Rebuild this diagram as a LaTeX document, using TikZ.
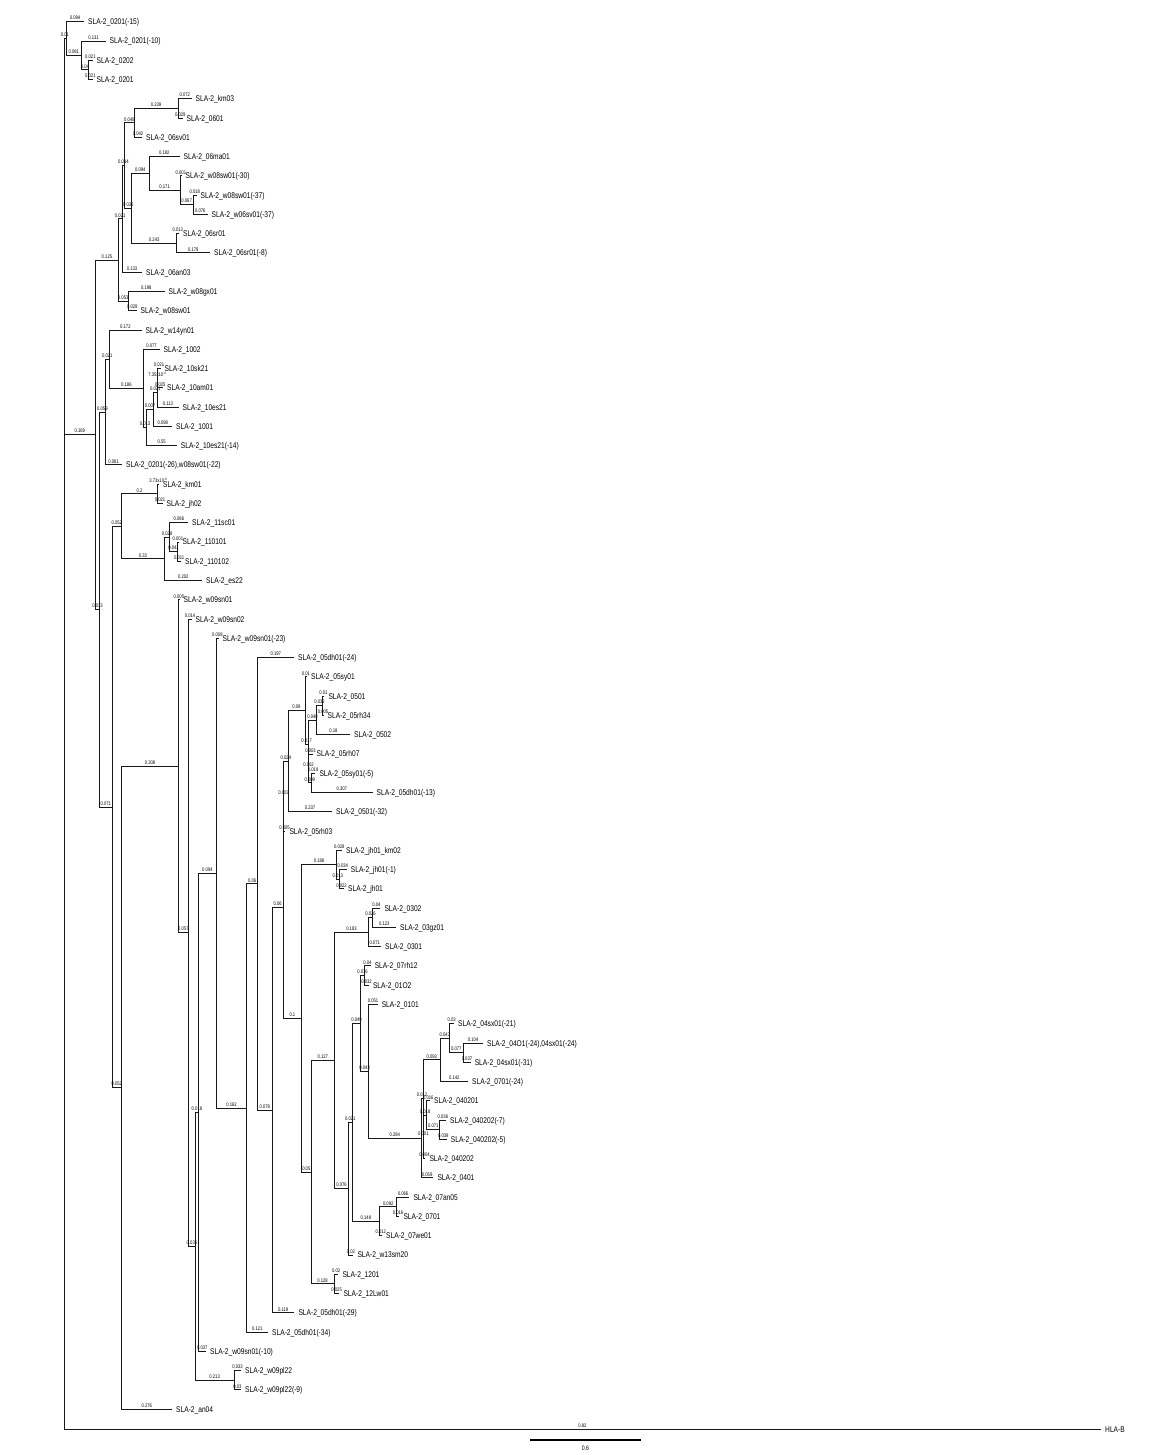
\documentclass[tikz,border=0pt]{standalone}
\usepackage{fontspec}
\setmainfont{Liberation Sans}[FakeStretch=0.8]
\newcommand\leaffont{\fontsize{8.3}{9}\selectfont}
\newcommand\labfont{\fontsize{5.2}{6}\selectfont}
\tikzset{
 lf/.style={anchor=west, inner xsep=4pt, inner ysep=0pt, text height=6pt, text depth=0pt, font=\leaffont},
 bl/.style={pos=0.75, above=1.3pt, inner sep=0pt, font=\labfont},
 brl/.style={line width=0.9pt, draw=black!90},
}
\newcommand\bedge[3]{\draw[brl] (#1) |- (#2) node[bl] {#3};}
\begin{document}
\begin{tikzpicture}[x=1pt,y=-1pt]
\fill[white] (0,0) rectangle (1149,1455);
\useasboundingbox (0,0) rectangle (1149,1455);
% internal nodes
\coordinate (rt) at (64,38.56);
\coordinate (nA) at (66,38.56);
\coordinate (nB) at (81.5,55.42);
\coordinate (nC) at (88.3,69.875);
\coordinate (al) at (95.5,434.78);
\coordinate (nQ) at (118.4,260.02);
\coordinate (nP) at (122,218.92);
\coordinate (nN) at (124.9,165.625);
\coordinate (nF) at (134,122.87);
\coordinate (nD) at (178,108.415);
\coordinate (nI) at (131.7,208.38);
\coordinate (nH) at (149,173.45);
\coordinate (nJ) at (180.3,190.31);
\coordinate (nK) at (193,204.765);
\coordinate (nL) at (176.7,243.305);
\coordinate (nR) at (128,301.115);
\coordinate (be) at (99.5,609.54);
\coordinate (nU) at (105.3,412.07);
\coordinate (nT) at (109.3,359.225);
\coordinate (nV) at (143.5,388.43);
\coordinate (nX) at (146.5,427.575);
\coordinate (nY) at (153.5,409.51);
\coordinate (nZ) at (157.2,392.65);
\coordinate (nW) at (157.6,378.195);
\coordinate (ga) at (112,807.005);
\coordinate (de) at (121.5,526.33);
\coordinate (kA) at (157.5,493.815);
\coordinate (dB) at (164.5,558.85);
\coordinate (dC) at (169.8,537.17);
\coordinate (dD) at (177.3,551.625);
\coordinate (ep) at (121.7,1087.68);
\coordinate (ze) at (178.3,766.225);
\coordinate (et) at (188.6,932.65);
\coordinate (th) at (195.3,1246.235);
\coordinate (ka) at (198.6,1112.235);
\coordinate (pl) at (234,1380.235);
\coordinate (nu) at (216.3,873.14);
\coordinate (xi) at (246.7,1107.94);
\coordinate (rh) at (257.6,883.825);
\coordinate (si) at (272,1110.04);
\coordinate (ta) at (283.2,907.285);
\coordinate (ps) at (283.8,796.11);
\coordinate (om) at (288,761.19);
\coordinate (oA) at (305,710.6);
\coordinate (oB) at (308.3,744.325);
\coordinate (oC) at (316.7,720.24);
\coordinate (oD) at (322.5,705.785);
\coordinate (oE) at (308.7,768.41);
\coordinate (oF) at (311,782.865);
\coordinate (ch) at (301.6,1018.46);
\coordinate (jA) at (336.6,864.76);
\coordinate (jB) at (339,879.215);
\coordinate (fA) at (311,1172.16);
\coordinate (fB) at (334.5,1060.44);
\coordinate (fC) at (334,1283.885);
\coordinate (sA) at (368.4,932.21);
\coordinate (sG) at (372.7,917.755);
\coordinate (sB) at (348.5,1188.665);
\coordinate (sC) at (352.2,1122.35);
\coordinate (xA) at (379.6,1221.26);
\coordinate (xB) at (396.8,1206.805);
\coordinate (sD) at (360.8,1023.44);
\coordinate (sF) at (364.4,975.565);
\coordinate (sE) at (368.5,1071.31);
\coordinate (qA) at (421,1138.155);
\coordinate (qB) at (423.2,1098.41);
\coordinate (qC) at (440.5,1059.87);
\coordinate (qD) at (449.3,1038.19);
\coordinate (qE) at (463.3,1052.645);
\coordinate (qF) at (423.6,1136.95);
\coordinate (qG) at (426.7,1115.27);
\coordinate (qH) at (439.8,1129.725);
% leaves
\node[lf] (l1) at (84,21.7) {SLA-2\_0201(-15)};
\node[lf] (l2) at (105.5,40.97) {SLA-2\_0201(-10)};
\node[lf] (l3) at (92.5,60.24) {SLA-2\_0202};
\node[lf] (l4) at (92.5,79.51) {SLA-2\_0201};
\node[lf] (l5) at (191.5,98.78) {SLA-2\_km03};
\node[lf] (l6) at (182.5,118.05) {SLA-2\_0601};
\node[lf] (l7) at (142,137.32) {SLA-2\_06sv01};
\node[lf] (l8) at (179.5,156.59) {SLA-2\_06ma01};
\node[lf] (l9) at (181.5,175.86) {SLA-2\_w08sw01(-30)};
\node[lf] (l10) at (196.5,195.13) {SLA-2\_w08sw01(-37)};
\node[lf] (l11) at (207.5,214.4) {SLA-2\_w06sv01(-37)};
\node[lf] (l12) at (179,233.67) {SLA-2\_06sr01};
\node[lf] (l13) at (210,252.94) {SLA-2\_06sr01(-8)};
\node[lf] (l14) at (142,272.21) {SLA-2\_06an03};
\node[lf] (l15) at (164.5,291.48) {SLA-2\_w08gx01};
\node[lf] (l16) at (136.5,310.75) {SLA-2\_w08sw01};
\node[lf] (l17) at (141.5,330.02) {SLA-2\_w14yn01};
\node[lf] (l18) at (159.5,349.29) {SLA-2\_1002};
\node[lf] (l19) at (160.5,368.56) {SLA-2\_10sk21};
\node[lf] (l20) at (163,387.83) {SLA-2\_10am01};
\node[lf] (l21) at (178.5,407.1) {SLA-2\_10es21};
\node[lf] (l22) at (172,426.37) {SLA-2\_1001};
\node[lf] (l23) at (176.7,445.64) {SLA-2\_10es21(-14)};
\node[lf] (l24) at (122,464.91) {SLA-2\_0201(-26),w08sw01(-22)};
\node[lf] (l25) at (159,484.18) {SLA-2\_km01};
\node[lf] (l26) at (162.5,503.45) {SLA-2\_jh02};
\node[lf] (l27) at (188,522.72) {SLA-2\_11sc01};
\node[lf] (l28) at (178.5,541.99) {SLA-2\_110101};
\node[lf] (l29) at (181,561.26) {SLA-2\_110102};
\node[lf] (l30) at (202,580.53) {SLA-2\_es22};
\node[lf] (l31) at (179.5,599.8) {SLA-2\_w09sn01};
\node[lf] (l32) at (191.5,619.07) {SLA-2\_w09sn02};
\node[lf] (l33) at (218.5,638.34) {SLA-2\_w09sn01(-23)};
\node[lf] (l34) at (294,657.61) {SLA-2\_05dh01(-24)};
\node[lf] (l35) at (307,676.88) {SLA-2\_05sy01};
\node[lf] (l36) at (324.3,696.15) {SLA-2\_0501};
\node[lf] (l37) at (323.5,715.42) {SLA-2\_05rh34};
\node[lf] (l38) at (350,734.69) {SLA-2\_0502};
\node[lf] (l39) at (312.5,753.96) {SLA-2\_05rh07};
\node[lf] (l40) at (315.3,773.23) {SLA-2\_05sy01(-5)};
\node[lf] (l41) at (372.5,792.5) {SLA-2\_05dh01(-13)};
\node[lf] (l42) at (332,811.77) {SLA-2\_0501(-32)};
\node[lf] (l43) at (285.3,831.04) {SLA-2\_05rh03};
\node[lf] (l44) at (342,850.31) {SLA-2\_jh01\_km02};
\node[lf] (l45) at (346.7,869.58) {SLA-2\_jh01(-1)};
\node[lf] (l46) at (344,888.85) {SLA-2\_jh01};
\node[lf] (l47) at (380.3,908.12) {SLA-2\_0302};
\node[lf] (l48) at (396,927.39) {SLA-2\_03gz01};
\node[lf] (l49) at (381,946.66) {SLA-2\_0301};
\node[lf] (l50) at (370.6,965.93) {SLA-2\_07rh12};
\node[lf] (l51) at (368.8,985.2) {SLA-2\_01O2};
\node[lf] (l52) at (377.6,1004.47) {SLA-2\_0101};
\node[lf] (l53) at (454,1023.74) {SLA-2\_04sx01(-21)};
\node[lf] (l54) at (483,1043.01) {SLA-2\_04O1(-24),04sx01(-24)};
\node[lf] (l55) at (470.6,1062.28) {SLA-2\_04sx01(-31)};
\node[lf] (l56) at (468,1081.55) {SLA-2\_0701(-24)};
\node[lf] (l57) at (430,1100.82) {SLA-2\_040201};
\node[lf] (l58) at (446,1120.09) {SLA-2\_040202(-7)};
\node[lf] (l59) at (446.7,1139.36) {SLA-2\_040202(-5)};
\node[lf] (l60) at (425.3,1158.63) {SLA-2\_040202};
\node[lf] (l61) at (433.3,1177.9) {SLA-2\_0401};
\node[lf] (l62) at (409.3,1197.17) {SLA-2\_07an05};
\node[lf] (l63) at (399.3,1216.44) {SLA-2\_0701};
\node[lf] (l64) at (382,1235.71) {SLA-2\_07we01};
\node[lf] (l65) at (353.3,1254.98) {SLA-2\_w13sm20};
\node[lf] (l66) at (338.3,1274.25) {SLA-2\_1201};
\node[lf] (l67) at (339.3,1293.52) {SLA-2\_12Lw01};
\node[lf] (l68) at (294.3,1312.79) {SLA-2\_05dh01(-29)};
\node[lf] (l69) at (268,1332.06) {SLA-2\_05dh01(-34)};
\node[lf] (l70) at (206,1351.33) {SLA-2\_w09sn01(-10)};
\node[lf] (l71) at (241,1370.6) {SLA-2\_w09pl22};
\node[lf] (l72) at (241,1389.87) {SLA-2\_w09pl22(-9)};
\node[lf] (l73) at (172,1409.14) {SLA-2\_an04};
\node[lf] (hla) at (1101,1429) {HLA-B};
% edges
\bedge{rt}{nA}{0.01}
\bedge{rt}{al}{0.169}
\bedge{rt}{hla.west}{0.82}
\bedge{nA}{l1.west}{0.094}
\bedge{nA}{nB}{0.081}
\bedge{nB}{l2.west}{0.131}
\bedge{nB}{nC}{0.04}
\bedge{nC}{l3.west}{0.021}
\bedge{nC}{l4.west}{0.021}
\bedge{al}{nQ}{0.125}
\bedge{al}{be}{0.033}
\bedge{nQ}{nP}{0.021}
\bedge{nQ}{nR}{0.053}
\bedge{nP}{nN}{0.014}
\bedge{nP}{l14.west}{0.133}
\bedge{nN}{nF}{0.048}
\bedge{nN}{nI}{0.036}
\bedge{nF}{nD}{0.239}
\bedge{nF}{l7.west}{0.042}
\bedge{nD}{l5.west}{0.072}
\bedge{nD}{l6.west}{0.029}
\bedge{nI}{nH}{0.094}
\bedge{nI}{nL}{0.243}
\bedge{nH}{l8.west}{0.182}
\bedge{nH}{nJ}{0.171}
\bedge{nJ}{l9.west}{0.001}
\bedge{nJ}{nK}{0.067}
\bedge{nK}{l10.west}{0.018}
\bedge{nK}{l11.west}{0.076}
\bedge{nL}{l12.west}{0.013}
\bedge{nL}{l13.west}{0.179}
\bedge{nR}{l15.west}{0.198}
\bedge{nR}{l16.west}{0.029}
\bedge{be}{nU}{0.059}
\bedge{be}{ga}{0.071}
\bedge{nU}{nT}{0.021}
\bedge{nU}{l24.west}{0.081}
\bedge{nT}{l17.west}{0.172}
\bedge{nT}{nV}{0.186}
\bedge{nV}{l18.west}{0.077}
\bedge{nV}{nX}{0.013}
\bedge{nX}{nY}{0.007}
\bedge{nX}{l23.west}{0.55}
\bedge{nY}{nZ}{0.021}
\bedge{nY}{l22.west}{0.098}
\bedge{nZ}{nW}{7.35x10\textsuperscript{-4}}
\bedge{nZ}{l21.west}{0.113}
\bedge{nW}{l19.west}{0.021}
\bedge{nW}{l20.west}{0.025}
\bedge{ga}{de}{0.052}
\bedge{ga}{ep}{0.052}
\bedge{de}{kA}{0.2}
\bedge{de}{dB}{0.33}
\bedge{kA}{l25.west}{3.73x10\textsuperscript{-4}}
\bedge{kA}{l26.west}{0.021}
\bedge{dB}{dC}{0.028}
\bedge{dB}{l30.west}{0.202}
\bedge{dC}{l27.west}{0.086}
\bedge{dC}{dD}{0.041}
\bedge{dD}{l28.west}{0.001}
\bedge{dD}{l29.west}{0.011}
\bedge{ep}{ze}{0.308}
\bedge{ep}{l73.west}{0.276}
\bedge{ze}{l31.west}{0.005}
\bedge{ze}{et}{0.057}
\bedge{et}{l32.west}{0.014}
\bedge{et}{th}{0.036}
\bedge{th}{ka}{0.018}
\bedge{th}{pl}{0.213}
\bedge{pl}{l71.west}{0.033}
\bedge{pl}{l72.west}{0.03}
\bedge{ka}{nu}{0.094}
\bedge{ka}{l70.west}{0.037}
\bedge{nu}{l33.west}{0.008}
\bedge{nu}{xi}{0.162}
\bedge{xi}{rh}{0.06}
\bedge{xi}{l69.west}{0.121}
\bedge{rh}{l34.west}{0.197}
\bedge{rh}{si}{0.078}
\bedge{si}{ta}{0.06}
\bedge{si}{l68.west}{0.119}
\bedge{ta}{ps}{0.003}
\bedge{ta}{ch}{0.1}
\bedge{ps}{om}{0.024}
\bedge{ps}{l43.west}{0.005}
\bedge{om}{oA}{0.09}
\bedge{om}{l42.west}{0.237}
\bedge{oA}{l35.west}{0.01}
\bedge{oA}{oB}{0.017}
\bedge{oB}{oC}{0.048}
\bedge{oB}{oE}{0.002}
\bedge{oC}{oD}{0.032}
\bedge{oC}{l38.west}{0.18}
\bedge{oD}{l36.west}{0.01}
\bedge{oD}{l37.west}{0.005}
\bedge{oE}{l39.west}{0.003}
\bedge{oE}{oF}{0.009}
\bedge{oF}{l40.west}{0.018}
\bedge{oF}{l41.west}{0.307}
\bedge{ch}{jA}{0.188}
\bedge{ch}{fA}{0.05}
\bedge{jA}{l44.west}{0.028}
\bedge{jA}{jB}{0.013}
\bedge{jB}{l45.west}{0.034}
\bedge{jB}{l46.west}{0.022}
\bedge{fA}{fB}{0.127}
\bedge{fA}{fC}{0.128}
\bedge{fC}{l66.west}{0.02}
\bedge{fC}{l67.west}{0.025}
\bedge{fB}{sA}{0.183}
\bedge{fB}{sB}{0.076}
\bedge{sA}{sG}{0.026}
\bedge{sA}{l49.west}{0.071}
\bedge{sG}{l47.west}{0.04}
\bedge{sG}{l48.west}{0.123}
\bedge{sB}{sC}{0.021}
\bedge{sB}{l65.west}{0.02}
\bedge{sC}{sD}{0.049}
\bedge{sC}{xA}{0.148}
\bedge{xA}{xB}{0.092}
\bedge{xA}{l64.west}{0.012}
\bedge{xB}{l62.west}{0.066}
\bedge{xB}{l63.west}{0.016}
\bedge{sD}{sF}{0.016}
\bedge{sD}{sE}{0.043}
\bedge{sF}{l50.west}{0.04}
\bedge{sF}{l51.west}{0.032}
\bedge{sE}{l52.west}{0.051}
\bedge{sE}{qA}{0.284}
\bedge{qA}{qB}{0.012}
\bedge{qA}{l61.west}{0.059}
\bedge{qB}{qC}{0.093}
\bedge{qB}{qF}{0.001}
\bedge{qC}{qD}{0.047}
\bedge{qC}{l56.west}{0.142}
\bedge{qD}{l53.west}{0.03}
\bedge{qD}{qE}{0.077}
\bedge{qE}{l54.west}{0.104}
\bedge{qE}{l55.west}{0.037}
\bedge{qF}{qG}{0.018}
\bedge{qF}{l60.west}{0.004}
\bedge{qG}{l57.west}{0.016}
\bedge{qG}{qH}{0.071}
\bedge{qH}{l58.west}{0.036}
\bedge{qH}{l59.west}{0.039}
% scale bar
\coordinate (sb1) at (530,1440);
\coordinate (sb2) at (641,1440);
\draw[line width=1.6pt] (sb1) -- (sb2) node[midway, below=5pt, inner sep=0pt, font=\fontsize{6.5}{7}\selectfont] (sbl) {0.6};
\end{tikzpicture}
\end{document}
